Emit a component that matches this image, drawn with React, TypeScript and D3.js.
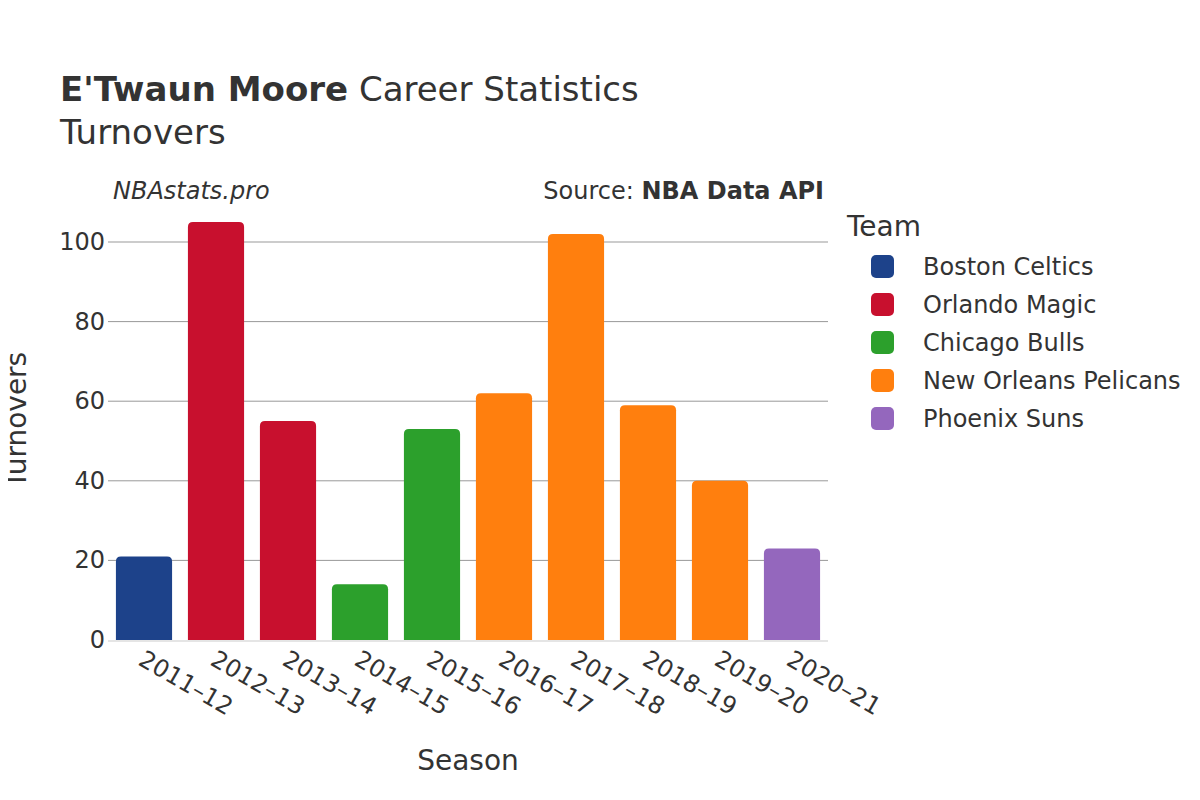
import React from "react";
import * as d3 from "d3";

const seasons = ["2011–12", "2012–13", "2013–14", "2014–15", "2015–16", "2016–17", "2017–18", "2018–19", "2019–20", "2020–21"];
const turnovers = [21, 105, 55, 14, 53, 62, 102, 59, 40, 23];
const seasonTeams = ["Boston Celtics", "Orlando Magic", "Orlando Magic", "Chicago Bulls", "Chicago Bulls", "New Orleans Pelicans", "New Orleans Pelicans", "New Orleans Pelicans", "New Orleans Pelicans", "Phoenix Suns"];
const teams = ["Boston Celtics", "Orlando Magic", "Chicago Bulls", "New Orleans Pelicans", "Phoenix Suns"];
const teamColors = ["#1d428a", "#c8102e", "#2ca02c", "#ff7f0e", "#9467bd"];
const yTicks = [0, 20, 40, 60, 80, 100];

const FONT = "'DejaVu Sans', sans-serif";
const TEXT = "#333";

export default function App() {
  const W = 1200, H = 800;
  const left = 108, right = 828, bottom = 640;
  const x = d3.scaleBand<string>().domain(seasons).range([left, right]).paddingInner(0.22).paddingOuter(0.11);
  const y = d3.scaleLinear().domain([0, 115]).range([bottom, bottom - 115 * 3.98]);
  const color = d3.scaleOrdinal<string, string>().domain(teams).range(teamColors);
  const r = 5;
  const barPath = (x0: number, w: number, yTop: number, yBot: number) => {
    const rr = Math.min(r, (yBot - yTop) / 2, w / 2);
    return `M${x0},${yBot} L${x0},${yTop + rr} Q${x0},${yTop} ${x0 + rr},${yTop} L${x0 + w - rr},${yTop} Q${x0 + w},${yTop} ${x0 + w},${yTop + rr} L${x0 + w},${yBot} Z`;
  };
  return (
    <svg width={W} height={H} style={{ display: "block", margin: -8, background: "#fff" }} fontFamily={FONT}>
      <text x={60} y={101} fontSize={34} fill={TEXT}>
        <tspan fontWeight="bold">E'Twaun Moore</tspan> Career Statistics
      </text>
      <text x={60} y={144} fontSize={34} fill={TEXT}>Turnovers</text>
      <text x={113} y={199} fontSize={24} fontStyle="italic" fill={TEXT}>NBAstats.pro</text>
      <text x={824} y={199} fontSize={24} textAnchor="end" fill={TEXT}>
        Source: <tspan fontWeight="bold">NBA Data API</tspan>
      </text>
      {yTicks.filter(t => t > 0).map(t => (
        <line key={t} x1={left} x2={right} y1={y(t)} y2={y(t)} stroke="#999" strokeWidth={1} />
      ))}
      {yTicks.map(t => (
        <text key={t} x={105} y={y(t) + 8} fontSize={24} textAnchor="end" fill={TEXT}>{t}</text>
      ))}
      <line x1={left} x2={right} y1={bottom + 1} y2={bottom + 1} stroke="#e5e5e5" strokeWidth={2} />
      {seasons.map((s, i) => (
        <path key={s} d={barPath(x(s)!, x.bandwidth(), y(turnovers[i]), bottom)} fill={color(seasonTeams[i])} />
      ))}
      {seasons.map(s => {
        const cx = x(s)! + x.bandwidth() / 2;
        return (
          <text key={s} transform={`translate(${cx - 7},${664}) rotate(30)`} fontSize={24} fill={TEXT}>{s}</text>
        );
      })}
      <text x={468} y={770} fontSize={28} textAnchor="middle" fill={TEXT}>Season</text>
      <text transform={`translate(26,420) rotate(-90)`} fontSize={28} textAnchor="middle" fill={TEXT}>Turnovers</text>
      <text x={847} y={236} fontSize={28} fill={TEXT}>Team</text>
      {teams.map((t, i) => (
        <g key={t} transform={`translate(0,${266 + i * 38})`}>
          <rect x={871} y={-11} width={23} height={23} rx={5} fill={color(t)} />
          <text x={923} y={9} fontSize={24} fill={TEXT}>{t}</text>
        </g>
      ))}
    </svg>
  );
}
